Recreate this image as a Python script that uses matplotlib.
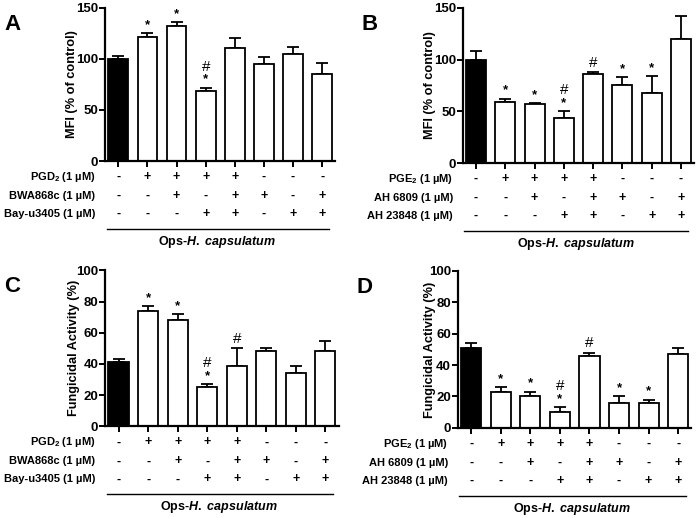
import numpy as np
import matplotlib
matplotlib.use('Agg')
import matplotlib.pyplot as plt
from matplotlib.transforms import offset_copy

plt.rcParams['font.family'] = 'Liberation Sans'
plt.rcParams['font.weight'] = 'bold'
plt.rcParams['mathtext.fontset'] = 'custom'
plt.rcParams['mathtext.rm'] = 'Liberation Sans:bold'
plt.rcParams['mathtext.bf'] = 'Liberation Sans:bold'
plt.rcParams['mathtext.it'] = 'Liberation Sans:bold:italic'

# panel A - PGD2 / MFI
a_vals = [100, 121, 132, 69, 111, 95, 105, 85]
a_err = [3, 4, 4, 3, 9, 7, 7, 11]
a_marks = ['', '*', '*', '#*', '', '', '', '']
# panel B - PGE2 / MFI
b_vals = [100, 59, 57, 44, 86, 75, 68, 120]
b_err = [8, 3, 1, 6, 2, 8, 16, 22]
b_marks = ['', '*', '*', '#*', '#', '*', '*', '']
# panel C - PGD2 / fungicidal
c_vals = [41, 74, 68, 25, 39, 48, 34, 48]
c_err = [2, 3, 4, 2, 11, 2, 5, 7]
c_marks = ['', '*', '*', '#*', '#', '', '', '']
# panel D - PGE2 / fungicidal
d_vals = [51, 23, 20, 10, 46, 16, 16, 47]
d_err = [3, 3, 3, 3, 2, 4, 2, 4]
d_marks = ['', '*', '*', '#*', '#', '*', '*', '']

row1 = ['-', '+', '+', '+', '+', '-', '-', '-']
row2 = ['-', '-', '+', '-', '+', '+', '-', '+']
row3 = ['-', '-', '-', '+', '+', '-', '+', '+']
pgd_labels = ['PGD$_2$ (1 µM)', 'BWA868c (1 µM)', 'Bay-u3405 (1 µM)']
pge_labels = ['PGE$_2$ (1 µM)', 'AH 6809 (1 µM)', 'AH 23848 (1 µM)']

fig = plt.figure(figsize=(6.97, 5.18), dpi=100)

panels = [
    ('A', [0.151, 0.689, 0.33, 0.296], a_vals, a_err, a_marks, pgd_labels, 150, 50, 'MFI (% of control)', -27),
    ('B', [0.664, 0.685, 0.332, 0.300], b_vals, b_err, b_marks, pge_labels, 150, 50, 'MFI (% of control)', -27),
    ('C', [0.151, 0.177, 0.335, 0.301], c_vals, c_err, c_marks, pgd_labels, 100, 20, 'Fungicidal Activity (%)', -25),
    ('D', [0.657, 0.174, 0.335, 0.303], d_vals, d_err, d_marks, pge_labels, 100, 20, 'Fungicidal Activity (%)', -22),
]

for letter, rect, vals, err, marks, rlabels, ymax, ystep, ylab, lab_dx in panels:
    ax = fig.add_axes(rect)
    x = np.arange(len(vals))
    colors = ['black'] + ['white'] * (len(vals) - 1)
    ax.bar(x, vals, width=0.68, color=colors, edgecolor='black', linewidth=1.3, zorder=2)
    ax.errorbar(x, vals, yerr=[[0] * len(vals), err], fmt='none', ecolor='black',
                elinewidth=1.3, capsize=4, capthick=1.3, zorder=1)
    ax.set_xlim(-0.45, 7.45)
    ax.set_ylim(0, ymax)
    ax.set_yticks(np.arange(0, ymax + 1, ystep))
    ax.set_xticks(x)
    ax.set_xticklabels([])
    for s in ['top', 'right']:
        ax.spines[s].set_visible(False)
    for s in ['left', 'bottom']:
        ax.spines[s].set_linewidth(1.6)
    ax.tick_params(axis='both', width=1.4, length=4, labelsize=9.5, pad=1)
    ax.set_ylabel(ylab, fontsize=9.2, fontweight='bold')
    ax.yaxis.set_label_coords(0, 0.5, transform=offset_copy(ax.transAxes, fig=fig, x=lab_dx, y=0, units='dots'))
    for lab in ax.get_yticklabels():
        lab.set_fontweight('bold')

    # significance marks
    for i, m in enumerate(marks):
        if not m:
            continue
        top = vals[i] + err[i] + ymax * 0.015
        if m == '#*':
            ax.text(i, top, '*', ha='center', va='bottom', fontsize=9.5)
            ax.text(i, top + ymax * 0.075, '#', ha='center', va='bottom', fontsize=11, fontweight='normal')
        elif m == '#':
            ax.text(i, top, '#', ha='center', va='bottom', fontsize=11, fontweight='normal')
        else:
            ax.text(i, top, '*', ha='center', va='bottom', fontsize=9.5)

    # treatment table
    trans = ax.get_xaxis_transform()
    for r, (row, lab, dy) in enumerate(zip([row1, row2, row3], rlabels, [16, 35, 53])):
        t = offset_copy(trans, fig=fig, x=0, y=-dy, units='dots')
        for i, s in enumerate(row):
            ax.text(i, 0, s, transform=t, ha='center', va='center', fontsize=9, clip_on=False)
        ta = offset_copy(ax.transAxes, fig=fig, x=-10, y=-dy, units='dots')
        ax.text(0, 0, lab, transform=ta, ha='right', va='center', fontsize=8)
    tl = offset_copy(trans, fig=fig, x=0, y=-68, units='dots')
    ax.plot([-0.4, 7.25], [0, 0], color='black', lw=1.0, transform=tl, clip_on=False)
    tt = offset_copy(trans, fig=fig, x=0, y=-81, units='dots')
    ax.text(3.4, 0, r'Ops-$\it{H.\ capsulatum}$', transform=tt, ha='center', va='center',
            fontsize=9, clip_on=False)

    # panel letter
    tp = offset_copy(ax.transAxes, fig=fig, x=-101, y=-6, units='dots')
    ax.text(0, 1, letter, transform=tp, ha='left', va='top', fontsize=16, fontweight='bold')

fig.savefig('out.png', dpi=100)
